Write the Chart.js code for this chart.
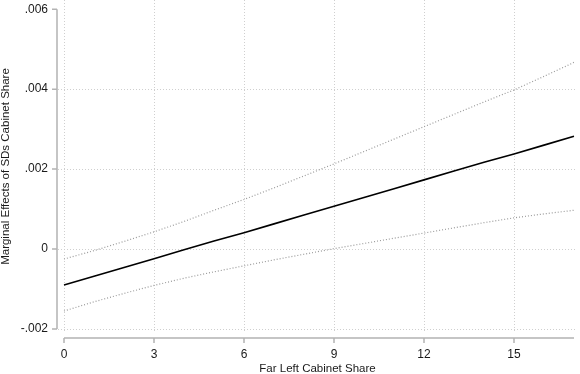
<!DOCTYPE html>
<html><head><meta charset="utf-8">
<script src="https://cdn.jsdelivr.net/npm/chart.js@4/dist/chart.umd.min.js"></script>
<style>html,body{margin:0;padding:0;background:#fff}canvas{display:block}</style>
</head><body>
<canvas id="c" width="580" height="374"></canvas>
<script>
const farLeftShare   = [0, 1, 2, 3, 4, 5, 6, 7, 8, 9, 10, 11, 12, 13, 14, 15, 16, 17];
const marginalEffect = [-0.00090, -0.00068, -0.00046, -0.00024, -0.00002, 0.00020, 0.00041, 0.00063, 0.00085, 0.00107, 0.00129, 0.00151, 0.00173, 0.00195, 0.00217, 0.00238, 0.00260, 0.00282];
const upperCI        = [-0.00025, -0.00004, 0.00019, 0.00043, 0.00069, 0.00097, 0.00124, 0.00153, 0.00183, 0.00213, 0.00244, 0.00275, 0.00306, 0.00337, 0.00368, 0.00398, 0.00432, 0.00467];
const lowerCI        = [-0.00155, -0.00132, -0.00111, -0.00091, -0.00073, -0.00057, -0.00042, -0.00027, -0.00013, 0.00001, 0.00014, 0.00027, 0.00040, 0.00053, 0.00066, 0.00078, 0.00088, 0.00097];
const xTickValues = [0, 3, 6, 9, 12, 15];
const xTickLabels = ['0', '3', '6', '9', '12', '15'];
const yTickValues = [-0.002, 0, 0.002, 0.004, 0.006];
const yTickLabels = ['-.002', '0', '.002', '.004', '.006'];
const xTitle = 'Far Left Cabinet Share';
const yTitle = 'Marginal Effects of SDs Cabinet Share';

const pts = arr => farLeftShare.map((x, i) => ({x: x, y: arr[i]}));

Chart.defaults.font.family = "'Liberation Sans', Arial, Helvetica, sans-serif";
Chart.defaults.color = '#1a1a1a';

const AXIS_COLOR = '#b3b3b3';
const stataAxes = {
  id: 'stataAxes',
  afterDraw(chart) {
    const {ctx, chartArea} = chart;
    const xs = chart.scales.x, ys = chart.scales.y;
    ctx.save();
    ctx.strokeStyle = AXIS_COLOR;
    ctx.lineWidth = 1.5;
    ctx.lineCap = 'butt';
    const ax = chartArea.left - 1;
    const yTop = ys.getPixelForValue(yTickValues[yTickValues.length - 1]);
    const yBot = ys.getPixelForValue(yTickValues[0]);
    ctx.beginPath();
    ctx.moveTo(ax, yTop); ctx.lineTo(ax, yBot);
    yTickValues.forEach(v => { const p = ys.getPixelForValue(v); ctx.moveTo(ax, p); ctx.lineTo(ax - 5, p); });
    ctx.stroke();
    const ay = chartArea.bottom + 5;
    const xL = xs.getPixelForValue(farLeftShare[0]);
    const xR = xs.getPixelForValue(farLeftShare[farLeftShare.length - 1]);
    ctx.beginPath();
    ctx.moveTo(xL, ay); ctx.lineTo(xR, ay);
    xTickValues.forEach(v => { const p = xs.getPixelForValue(v); ctx.moveTo(p, ay); ctx.lineTo(p, ay + 5); });
    ctx.stroke();
    ctx.restore();
  }
};

new Chart(document.getElementById('c'), {
  type: 'line',
  data: {
    datasets: [
      { label: 'Upper', data: pts(upperCI), borderColor: '#9a9a9a', borderWidth: 1.2, borderDash: [1, 2], pointRadius: 0, fill: false, tension: 0 },
      { label: 'Lower', data: pts(lowerCI), borderColor: '#9a9a9a', borderWidth: 1.2, borderDash: [1, 2], pointRadius: 0, fill: false, tension: 0 },
      { label: 'Marginal effect', data: pts(marginalEffect), borderColor: '#000000', borderWidth: 1.6, pointRadius: 0, fill: false, tension: 0 }
    ]
  },
  options: {
    responsive: false,
    animation: false,
    layout: { padding: { left: 0, right: 3, top: 0, bottom: 0 } },
    plugins: { legend: { display: false }, tooltip: { enabled: false } },
    scales: {
      x: {
        type: 'linear',
        min: -0.2, max: 17.1,
        afterBuildTicks: s => { s.ticks = xTickValues.map(v => ({value: v})); },
        afterFit: s => { s.height = 41; s.paddingLeft = 0; s.paddingRight = 0; },
        ticks: { padding: 14, font: { size: 12 }, maxRotation: 0, autoSkip: false,
                 callback: (v, i) => xTickLabels[i] },
        grid: { drawTicks: false, color: '#cfcfcf', lineWidth: 1 },
        border: { display: false, dash: [1, 2] },
        title: { display: true, text: xTitle, font: { size: 11.5, lineHeight: 1 }, padding: { top: 0, bottom: -1 } }
      },
      y: {
        type: 'linear',
        min: -0.0021, max: 0.00623,
        afterBuildTicks: s => { s.ticks = yTickValues.map(v => ({value: v})); },
        afterFit: s => { s.width = 58; s.paddingTop = 0; s.paddingBottom = 0; },
        ticks: { padding: 10, font: { size: 12 }, autoSkip: false,
                 callback: (v, i) => yTickLabels[i] },
        grid: { drawTicks: false, lineWidth: 1,
                color: c => (c.tick && c.tick.value === yTickValues[yTickValues.length - 1]) ? 'rgba(0,0,0,0)' : '#cfcfcf' },
        border: { display: false, dash: [1, 2] },
        title: { display: true, text: yTitle, font: { size: 11.5, lineHeight: 1 }, padding: { top: 0, bottom: 0 } }
      }
    }
  },
  plugins: [stataAxes]
});
</script>
</body></html>
